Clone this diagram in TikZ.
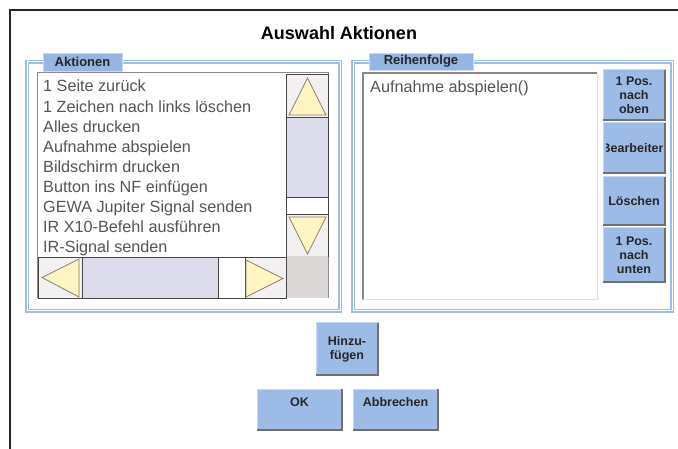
\documentclass[tikz,border=0pt]{standalone}
\usepackage{fontspec}
\setmainfont{Liberation Sans}
\definecolor{grpblue}{HTML}{9EBEEA}
\definecolor{tabblue}{HTML}{95B5E3}
\definecolor{btnblue}{HTML}{9DBBE7}
\definecolor{btnlight}{HTML}{C9D9F2}
\definecolor{btnshade}{HTML}{707070}
\definecolor{sbfill}{HTML}{F2F0F0}
\definecolor{sbline}{HTML}{4A4545}
\definecolor{trifill}{HTML}{FFF5C2}
\definecolor{triline}{HTML}{8A8070}
\definecolor{thumbfill}{HTML}{DCDCEC}
\definecolor{cornerfill}{HTML}{DCD8D8}
\definecolor{itemgray}{HTML}{555555}
\definecolor{listline}{HTML}{8F8787}
\tikzset{
  grpbox/.style={draw=grpblue, double=white, double distance=1pt, line width=1.2pt},
  tab/.style={fill=tabblue, draw=btnlight, inner sep=0pt, outer sep=0pt, text=black!85,
    font=\bfseries\fontsize{13}{13}\selectfont},
  btn/.style={fill=btnblue, draw=btnlight, line width=1pt, inner sep=0pt, outer sep=0pt,
    align=center, text=black!85, font=\bfseries\fontsize{12.5}{14}\selectfont},
  sbtn/.style={fill=sbfill, draw=sbline, line width=0.9pt},
  tri/.style={fill=trifill, draw=triline, line width=0.8pt},
  item/.style={anchor=base west, inner sep=0pt, text=itemgray, font=\fontsize{16.2}{16}\selectfont}
}
\begin{document}
\begin{tikzpicture}[x=1pt,y=-1pt]
  \useasboundingbox (0,0) rectangle (678,449);
  % window frame and title
  \draw[line width=2pt, black!85] (10,449) -- (10,10) -- (678,10);
  \node[font=\bfseries\fontsize{18}{20}\selectfont] (title) at (339,33) {Auswahl Aktionen};

  % group boxes
  \draw[grpbox] (27,62) rectangle (340,311);
  \draw[grpbox] (353,62) rectangle (672,311);
  \node[tab, minimum width=79pt, minimum height=18pt] (tabA) at (82.5,62) {Aktionen};
  \node[tab, minimum width=104pt, minimum height=17pt] (tabR) at (421,61.5) {Reihenfolge};

  % left list with scrollbars
  \draw[fill=white, draw=listline, line width=1pt] (37,73) rectangle (328,298);
  \foreach \t [count=\i from 0] in {1 Seite zurück, 1 Zeichen nach links löschen, Alles drucken,
      Aufnahme abspielen, Bildschirm drucken, Button ins NF einfügen,
      GEWA Jupiter Signal senden, IR X10-Befehl ausführen, IR-Signal senden}
    \node[item] (item\i) at (43,92+20.1*\i) {\t};
  \draw[sbtn] (286,74) rectangle (328,117);
  \draw[tri] (307.5,78) -- (326,115) -- (289,115) -- cycle;
  \draw[sbtn, fill=thumbfill] (286,117) rectangle (328,197);
  \draw[sbtn, fill=white] (286,197) rectangle (328,214);
  \draw[sbtn] (286,214) rectangle (328,256);
  \draw[tri] (289,217) -- (326,217) -- (307.5,254) -- cycle;
  \fill[cornerfill] (286.5,256.5) rectangle (328,298);
  \draw[sbtn] (38,257) rectangle (82,298);
  \draw[tri] (42,277.5) -- (79,259) -- (79,297) -- cycle;
  \draw[sbtn, fill=thumbfill] (82,257) rectangle (218,298);
  \draw[sbtn, fill=white] (218,257) rectangle (245,298);
  \draw[sbtn] (245,257) rectangle (286,298);
  \draw[tri] (246,260) -- (283,278.5) -- (246,297) -- cycle;

  % right list
  \fill[white] (363,73) rectangle (597,300);
  \draw[listline, line width=1.5pt] (363,300) -- (363,73) -- (597,73);
  \draw[black!12, line width=1pt] (597,73) -- (597,300) -- (363,300);
  \node[item] (entry) at (370,93) {Aufnahme abspielen()};

  % buttons
  \node[btn, minimum width=62pt, minimum height=50pt] (up) at (634,95) {1 Pos.\\nach\\oben};
  \node[btn, minimum width=62pt, minimum height=50pt] (edit) at (634,148) {};
  \node[btn, minimum width=62pt, minimum height=48pt] (del) at (634,201) {Löschen};
  \node[btn, minimum width=62pt, minimum height=54pt] (down) at (634,255) {1 Pos.\\nach\\unten};
  \node[btn, minimum width=62pt, minimum height=52pt] (add) at (347,349) {Hinzu-\\fügen};
  \node[btn, minimum width=85pt, minimum height=41pt, text height=9pt, text depth=15pt] (ok) at (299.5,409.5) {OK};
  \node[btn, minimum width=85pt, minimum height=41pt, text height=9pt, text depth=15pt] (cancel) at (395.5,409.5) {Abbrechen};
  \begin{scope}
    \clip (606.5,124) rectangle (662,172);
    \node[btn, fill=none, draw=none] (editlbl) at (edit) {Bearbeiten};
  \end{scope}
  \foreach \b in {up,edit,del,down,add,ok,cancel}
    \draw[btnshade, line width=2pt] (\b.south west) -- (\b.south east) -- (\b.north east);
\end{tikzpicture}
\end{document}
